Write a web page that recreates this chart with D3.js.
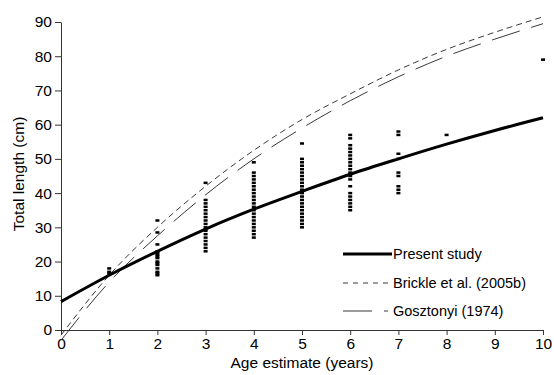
<!DOCTYPE html>
<html lang="en">
<head>
<meta charset="UTF-8">
<title>Growth curves</title>
<script src="https://cdn.jsdelivr.net/npm/d3@7"></script>
<style>
  body { margin: 0; background: #fff; }
  text { font-family: "Liberation Sans", Arial, sans-serif; fill: #000; }
</style>
</head>
<body>
<div id="output"></div>
<script>
// observed lengths at each age (cm)
var ages = [1, 2, 3, 4, 5, 6, 7, 8, 10];
var lengths = [
    [16.5, 17, 18],
    [32, 28.5, 25, 23, 22.5, 22, 21.5, 21, 20, 19.5, 19, 18, 17, 16.5, 16],
    [43, 38, 37, 36, 35, 34, 33, 32, 31, 30, 29.5, 29, 28, 27, 26, 25, 24, 23],
    [49, 46, 45, 44, 43, 42, 41, 40, 39, 38, 37, 36, 35, 34, 33, 32, 31, 30, 29, 28, 27],
    [54.5, 50, 49, 48, 47, 46, 45, 44, 43, 42, 41, 40, 39, 38, 37, 36, 35, 34, 33, 32, 31, 30],
    [57, 56, 54, 53, 52, 51, 50, 49, 48, 47, 46, 45, 44, 42, 40, 39, 38, 37, 36, 35],
    [58, 57, 51.5, 50, 46, 45, 42, 41, 40],
    [57],
    [79]
];

// growth curves read at whole years
var curveAges = [0, 1, 2, 3, 4, 5, 6, 7, 8, 9, 10];
var presentStudy = [8.3, 16, 23, 29.5, 35.3, 40.5, 45.5, 50, 54.3, 58.3, 62];
var brickle = [-1.5, 16, 30, 42, 52.5, 61.5, 69, 76, 82, 87, 91.5];
var gosztonyi = [-3, 14, 27.5, 39.5, 50, 59, 67, 74, 80, 85, 89.5];

var xTicks = [0, 1, 2, 3, 4, 5, 6, 7, 8, 9, 10];
var yTicks = [0, 10, 20, 30, 40, 50, 60, 70, 80, 90];

var w = 554, h = 375;
var svg = d3.select("#output").append("svg")
    .attr("width", w).attr("height", h);

var x = d3.scaleLinear().domain([0, 10]).range([61, 543]);
var y = d3.scaleLinear().domain([0, 90]).range([330, 22]);

// axes
var xAxis = svg.append("g")
    .attr("transform", "translate(0," + y(0) + ")")
    .call(d3.axisBottom(x).tickValues(xTicks).tickSize(5).tickPadding(3).tickSizeOuter(0));
var yAxis = svg.append("g")
    .attr("transform", "translate(" + x(0) + ",0)")
    .call(d3.axisLeft(y).tickValues(yTicks).tickSize(6).tickPadding(3).tickSizeOuter(0));

[xAxis, yAxis].forEach(function (g) {
    g.select(".domain").attr("stroke", "#333");
    g.selectAll(".tick line").attr("stroke", "#333");
    g.selectAll("text").style("font-size", "15.5px")
        .style("font-family", '"Liberation Sans", Arial, sans-serif').attr("fill", "#000");
});

svg.append("text")
    .attr("x", 302).attr("y", 368)
    .attr("text-anchor", "middle")
    .style("font-size", "15.5px")
    .text("Age estimate (years)");

svg.append("text")
    .attr("transform", "translate(24,174) rotate(-90)")
    .attr("text-anchor", "middle")
    .style("font-size", "15.5px")
    .text("Total length (cm)");

// lines
var line = function (vals) {
    return d3.line()
        .x(function (d, i) { return x(curveAges[i]); })
        .y(function (d) { return y(d); })
        .curve(d3.curveMonotoneX)(vals);
};

svg.append("path").attr("d", line(brickle))
    .attr("fill", "none").attr("stroke", "#222").attr("stroke-width", 0.9)
    .attr("stroke-dasharray", "6,4");
svg.append("path").attr("d", line(gosztonyi))
    .attr("fill", "none").attr("stroke", "#222").attr("stroke-width", 0.9)
    .attr("stroke-dasharray", "29,12");

// points
var pts = [];
ages.forEach(function (a, i) {
    lengths[i].forEach(function (v) { pts.push({ age: a, len: v }); });
});
svg.append("g").selectAll("rect").data(pts).enter().append("rect")
    .attr("x", function (d) { return x(d.age) - 2; })
    .attr("y", function (d) { return y(d.len) - 1.25; })
    .attr("width", 4).attr("height", 2.5)
    .attr("fill", "#000");

svg.append("path").attr("d", line(presentStudy))
    .attr("fill", "none").attr("stroke", "#000").attr("stroke-width", 3);

// legend
var legend = [
    { name: "Present study", width: 3, dash: null, y: 254, end: 392 },
    { name: "Brickle et al. (2005b)", width: 0.9, dash: "5,5", y: 283, end: 392 },
    { name: "Gosztonyi (1974)", width: 0.9, dash: "29,12", y: 311, end: 388 }
];
var lg = svg.append("g");
legend.forEach(function (d) {
    lg.append("line")
        .attr("x1", 343).attr("x2", d.end).attr("y1", d.y).attr("y2", d.y)
        .attr("stroke", d.width > 1 ? "#000" : "#222")
        .attr("stroke-width", d.width)
        .attr("stroke-dasharray", d.dash);
    lg.append("text")
        .attr("x", 393).attr("y", d.y + 5)
        .style("font-size", "14.5px")
        .text(d.name);
});
</script>
</body>
</html>
